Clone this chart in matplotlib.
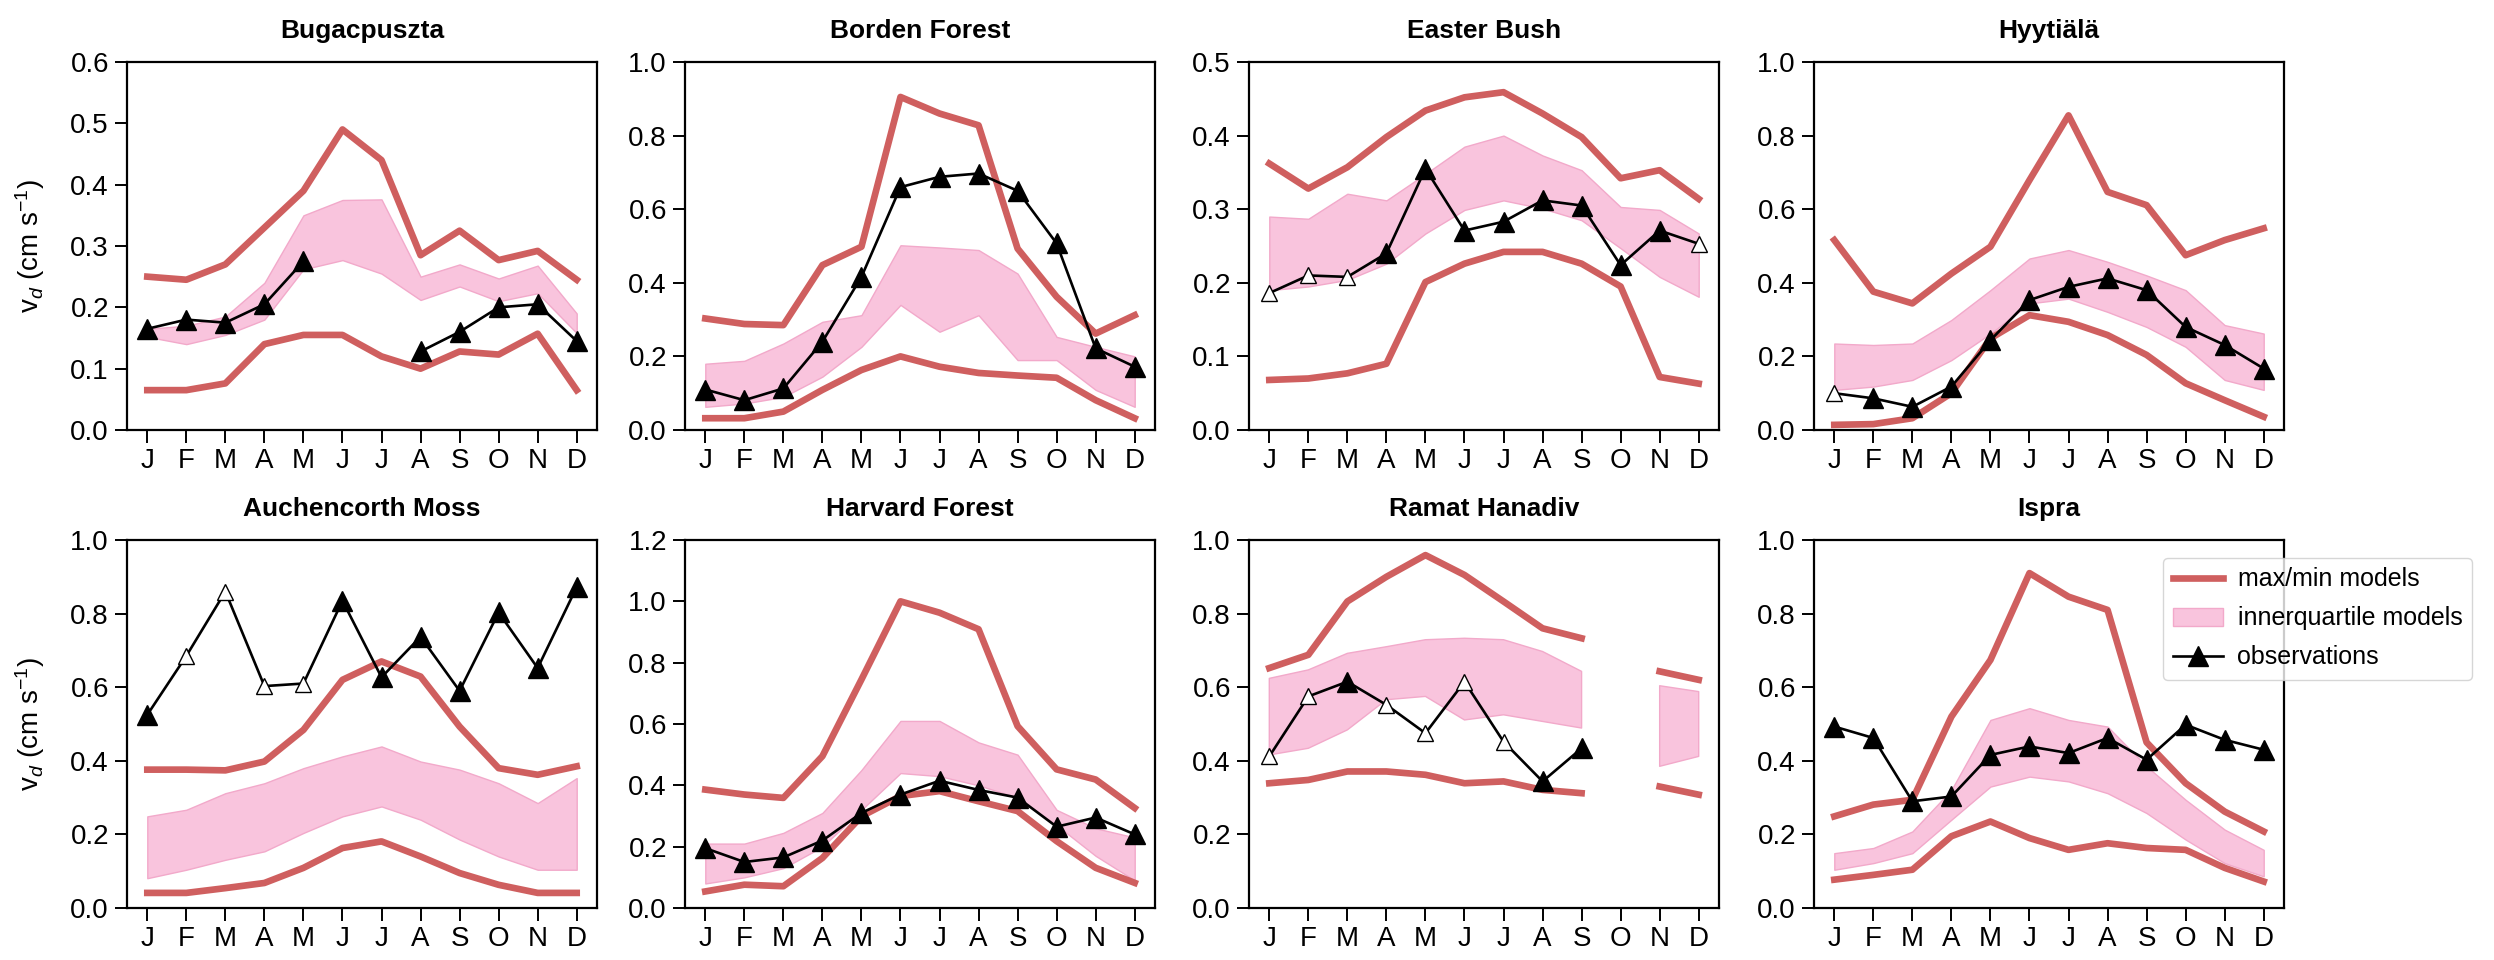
import numpy as np
import matplotlib
matplotlib.use('Agg')
import matplotlib.pyplot as plt
from matplotlib.patches import Patch
from matplotlib.lines import Line2D

nan = np.nan
months = ['J', 'F', 'M', 'A', 'M', 'J', 'J', 'A', 'S', 'O', 'N', 'D']

# Bugacpuszta
bug_max = [0.25, 0.245, 0.27, 0.33, 0.39, 0.49, 0.44, 0.285, 0.325, 0.277, 0.292, 0.245]
bug_min = [0.065, 0.065, 0.076, 0.14, 0.155, 0.155, 0.12, 0.1, 0.128, 0.123, 0.157, 0.065]
bug_q75 = [0.165, 0.17, 0.185, 0.24, 0.35, 0.375, 0.376, 0.25, 0.27, 0.247, 0.268, 0.19]
bug_q25 = [0.152, 0.14, 0.155, 0.18, 0.262, 0.277, 0.255, 0.212, 0.234, 0.21, 0.223, 0.158]
bug_obs = [0.165, 0.18, 0.175, 0.205, 0.275, nan, nan, 0.128, 0.16, 0.2, 0.205, 0.145]
bug_open = []

# Borden Forest
bor_max = [0.303, 0.288, 0.285, 0.448, 0.498, 0.905, 0.86, 0.828, 0.493, 0.362, 0.262, 0.312]
bor_min = [0.032, 0.032, 0.05, 0.109, 0.163, 0.2, 0.172, 0.155, 0.148, 0.142, 0.081, 0.032]
bor_q75 = [0.18, 0.188, 0.235, 0.294, 0.312, 0.502, 0.496, 0.489, 0.425, 0.253, 0.226, 0.2]
bor_q25 = [0.063, 0.072, 0.09, 0.145, 0.226, 0.34, 0.267, 0.312, 0.19, 0.19, 0.109, 0.063]
bor_obs = [0.11, 0.081, 0.113, 0.24, 0.416, 0.66, 0.688, 0.697, 0.65, 0.507, 0.222, 0.172]
bor_open = []

# Easter Bush
eas_max = [0.362, 0.328, 0.357, 0.398, 0.434, 0.452, 0.459, 0.43, 0.398, 0.342, 0.353, 0.314]
eas_min = [0.068, 0.07, 0.077, 0.09, 0.201, 0.226, 0.242, 0.242, 0.226, 0.195, 0.072, 0.063]
eas_q75 = [0.29, 0.287, 0.321, 0.312, 0.348, 0.385, 0.4, 0.373, 0.353, 0.303, 0.299, 0.267]
eas_q25 = [0.19, 0.195, 0.204, 0.226, 0.267, 0.299, 0.312, 0.301, 0.285, 0.247, 0.208, 0.181]
eas_obs = [0.186, 0.21, 0.208, 0.24, 0.355, 0.271, 0.283, 0.312, 0.305, 0.224, 0.271, 0.253]
eas_open = [0, 1, 2, 11]

# Hyytiala
hyy_max = [0.516, 0.376, 0.344, 0.425, 0.498, 0.679, 0.855, 0.647, 0.611, 0.475, 0.516, 0.548]
hyy_min = [0.014, 0.016, 0.032, 0.1, 0.249, 0.312, 0.294, 0.258, 0.204, 0.127, 0.081, 0.036]
hyy_q75 = [0.235, 0.231, 0.235, 0.299, 0.38, 0.466, 0.489, 0.457, 0.42, 0.38, 0.285, 0.262]
hyy_q25 = [0.109, 0.118, 0.136, 0.19, 0.262, 0.344, 0.357, 0.321, 0.28, 0.226, 0.136, 0.109]
hyy_obs = [0.1, 0.086, 0.063, 0.118, 0.244, 0.353, 0.389, 0.412, 0.38, 0.28, 0.231, 0.167]
hyy_open = [0]

# Auchencorth Moss
auc_max = [0.376, 0.376, 0.374, 0.398, 0.484, 0.62, 0.67, 0.629, 0.493, 0.38, 0.362, 0.385]
auc_min = [0.041, 0.041, 0.054, 0.068, 0.109, 0.163, 0.181, 0.14, 0.095, 0.063, 0.041, 0.041]
auc_q75 = [0.249, 0.267, 0.312, 0.339, 0.38, 0.412, 0.439, 0.398, 0.376, 0.339, 0.285, 0.353]
auc_q25 = [0.081, 0.104, 0.131, 0.154, 0.204, 0.249, 0.276, 0.24, 0.186, 0.14, 0.104, 0.104]
auc_obs = [0.525, 0.685, 0.86, 0.603, 0.61, 0.835, 0.627, 0.737, 0.59, 0.803, 0.652, 0.872]
auc_open = [1, 2, 3, 4]

# Harvard Forest
har_max = [0.386, 0.37, 0.359, 0.495, 0.745, 1.0, 0.963, 0.909, 0.593, 0.452, 0.419, 0.326]
har_min = [0.054, 0.076, 0.071, 0.163, 0.299, 0.365, 0.381, 0.348, 0.316, 0.218, 0.131, 0.082]
har_q75 = [0.21, 0.21, 0.245, 0.31, 0.45, 0.61, 0.61, 0.54, 0.5, 0.32, 0.26, 0.23]
har_q25 = [0.08, 0.1, 0.13, 0.2, 0.32, 0.44, 0.43, 0.4, 0.36, 0.27, 0.17, 0.09]
har_obs = [0.195, 0.15, 0.165, 0.22, 0.31, 0.37, 0.415, 0.385, 0.36, 0.265, 0.295, 0.24]
har_open = []

# Ramat Hanadiv
ram_max = [0.652, 0.688, 0.833, 0.9, 0.959, 0.905, 0.833, 0.76, 0.733, nan, 0.643, 0.62]
ram_min = [0.339, 0.348, 0.371, 0.371, 0.362, 0.339, 0.344, 0.321, 0.312, nan, 0.33, 0.308]
ram_q75 = [0.624, 0.647, 0.692, 0.71, 0.729, 0.733, 0.729, 0.697, 0.643, nan, 0.604, 0.588]
ram_q25 = [0.416, 0.434, 0.484, 0.566, 0.575, 0.511, 0.525, 0.507, 0.489, nan, 0.385, 0.412]
ram_obs = [0.412, 0.575, 0.615, 0.552, 0.475, 0.615, 0.452, 0.344, 0.434, nan, nan, nan]
ram_open = [0, 1, 3, 4, 5, 6]

# Ispra
isp_max = [0.249, 0.281, 0.294, 0.52, 0.674, 0.91, 0.846, 0.81, 0.45, 0.339, 0.262, 0.208]
isp_min = [0.077, 0.09, 0.104, 0.195, 0.235, 0.19, 0.158, 0.176, 0.163, 0.158, 0.109, 0.072]
isp_q75 = [0.149, 0.163, 0.208, 0.321, 0.511, 0.543, 0.511, 0.493, 0.385, 0.294, 0.213, 0.158]
isp_q25 = [0.104, 0.122, 0.149, 0.24, 0.33, 0.357, 0.344, 0.312, 0.258, 0.186, 0.122, 0.086]
isp_obs = [0.493, 0.462, 0.29, 0.303, 0.416, 0.439, 0.421, 0.462, 0.403, 0.498, 0.457, 0.43]
isp_open = []

sites = [
    ('Bugacpuszta', bug_max, bug_min, bug_q75, bug_q25, bug_obs, bug_open, 0.6, 0.1),
    ('Borden Forest', bor_max, bor_min, bor_q75, bor_q25, bor_obs, bor_open, 1.0, 0.2),
    ('Easter Bush', eas_max, eas_min, eas_q75, eas_q25, eas_obs, eas_open, 0.5, 0.1),
    ('Hyytiälä', hyy_max, hyy_min, hyy_q75, hyy_q25, hyy_obs, hyy_open, 1.0, 0.2),
    ('Auchencorth Moss', auc_max, auc_min, auc_q75, auc_q25, auc_obs, auc_open, 1.0, 0.2),
    ('Harvard Forest', har_max, har_min, har_q75, har_q25, har_obs, har_open, 1.2, 0.2),
    ('Ramat Hanadiv', ram_max, ram_min, ram_q75, ram_q25, ram_obs, ram_open, 1.0, 0.2),
    ('Ispra', isp_max, isp_min, isp_q75, isp_q25, isp_obs, isp_open, 1.0, 0.2),
]

plt.rcParams['font.family'] = ['Liberation Sans', 'DejaVu Sans']
plt.rcParams['mathtext.fontset'] = 'custom'
plt.rcParams['mathtext.rm'] = 'Liberation Sans'
plt.rcParams['mathtext.it'] = 'Liberation Sans:italic'

RED = '#cf5f5f'
PINK = '#f9c4dd'
PINK_EDGE = '#f2a9ca'

fig = plt.figure(figsize=(24.94, 9.6), dpi=100)
lefts = [127, 685, 1249, 1814]
tops = [62, 540]
W, H = 470, 368
x = np.arange(12)

for i, (name, mx, mn, q75, q25, obs, opn, ytop, ystep) in enumerate(sites):
    r, c = divmod(i, 4)
    ax = fig.add_axes([lefts[c] / 2494, 1 - (tops[r] + H) / 960, W / 2494, H / 960])
    ax.fill_between(x, q25, q75, facecolor=PINK, edgecolor=PINK_EDGE, lw=1)
    ax.plot(x, mx, color=RED, lw=4.8)
    ax.plot(x, mn, color=RED, lw=4.8)
    obs = np.array(obs)
    ax.plot(x, obs, color='k', lw=1.9)
    is_open = np.isin(x, opn)
    ax.plot(x[~is_open], obs[~is_open], ls='none', marker='^', ms=14, mfc='k', mec='k')
    ax.plot(x[is_open], obs[is_open], ls='none', marker='^', ms=12, mfc='white', mec='k', mew=1)

    ax.set_xlim(-0.52, 11.52)
    ax.set_ylim(0, ytop)
    ax.set_xticks(x)
    ax.set_xticklabels(months)
    yt = np.arange(0, ytop + ystep / 2, ystep)
    ax.set_yticks(yt)
    ax.set_yticklabels(['%.1f' % v for v in yt])
    ax.tick_params(direction='out', length=9, width=1.4, labelsize=20, pad=4)
    for sp in ax.spines.values():
        sp.set_linewidth(1.6)
    ax.set_title(name, fontsize=19, fontweight='bold', pad=17)
    if c == 0:
        ax.set_ylabel(r'v$_d$ (cm s$^{-1}$)', fontsize=20)
        ax.yaxis.set_label_coords(-0.17, 0.5)

handles = [Line2D([], [], color=RED, lw=4.8),
           Patch(facecolor=PINK, edgecolor=PINK_EDGE),
           Line2D([], [], color='k', lw=1.9, marker='^', ms=14)]
labels = ['max/min models', 'innerquartile models', 'observations']
fig.legend(handles, labels, loc='upper left', bbox_to_anchor=(2150 / 2494, 1 - 545 / 960),
           fontsize=18, handlelength=2.0, labelspacing=0.6, borderpad=0.4, handletextpad=0.6)

fig.savefig('out.png', dpi=100)
